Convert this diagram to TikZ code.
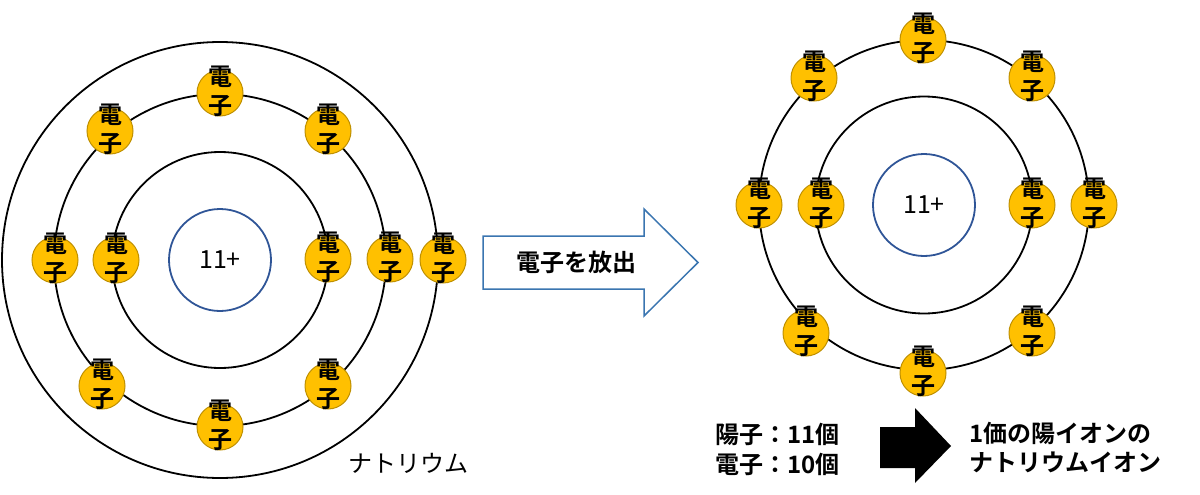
\documentclass[tikz,border=0pt]{standalone}
\usepackage{fontspec}
\setmainfont{Noto Sans CJK JP}[BoldFont={Noto Sans CJK JP Bold}]
\definecolor{egold}{HTML}{FFC000}
\definecolor{eborder}{HTML}{BF9000}
\definecolor{nucblue}{HTML}{2F5597}
\definecolor{arrblue}{HTML}{3A75B0}
\tikzset{
  orbit/.style={draw=black, line width=1.8pt},
  nucleus/.style={circle, draw=nucblue, line width=1.8pt, minimum size=102pt, inner sep=0pt, font=\fontsize{25}{28}\selectfont},
  electron/.style={circle, fill=egold, draw=eborder, line width=1pt, minimum size=46pt, inner sep=0pt},
  etext/.style={align=center, inner sep=0pt, font=\bfseries\fontsize{24}{29}\selectfont, yshift=2pt},
  label24/.style={inner sep=0pt, font=\fontsize{24}{30}\selectfont},
  blabel24/.style={inner sep=0pt, align=left, font=\bfseries\fontsize{24}{30}\selectfont},
}
\begin{document}
\begin{tikzpicture}[x=1pt,y=-1pt]
\useasboundingbox (0,0) rectangle (1200,495);
% ---------- left atom ----------
\coordinate (LC) at (220,260);
\draw[orbit] (LC) circle (108);
\draw[orbit] (LC) circle (166);
\draw[orbit] (LC) circle (218);
\node[nucleus] (LN) at (LC) {11+};
\foreach \n/\x/\y in {l1/220/93, l2/110/131, l3/328/131, l4/55/260, l5/116/260,
                      l6/328/259, l7/390/259, l8/443/260, l9/102/386, l10/328/386, l11/220/427}{
  \node[electron] (\n) at (\x,\y) {};
  \node[etext] (\n t) at (\n) {電\\子};
}
\node[label24, anchor=west] (Lname) at (348,463) {ナトリウム};
% ---------- outline arrow ----------
\draw[arrblue, line width=1.5pt, fill=white]
  (483,236) -- (644,236) -- (644,209) -- (698,262.5) -- (644,316) -- (644,289) -- (483,289) -- cycle;
\node[label24, font=\bfseries\fontsize{24}{28}\selectfont] (emit) at (576,262) {電子を放出};
% ---------- right atom ----------
\coordinate (RC) at (924,205);
\draw[orbit] (RC) circle (108.5);
\draw[orbit] (RC) circle (165);
\node[nucleus] (RN) at (RC) {11+};
\foreach \n/\x/\y in {r1/923/40, r2/814/78, r3/1032/78, r4/759/205, r5/821/205,
                      r6/1032/205, r7/1094/205, r8/806/333, r9/1032/333, r10/923/373}{
  \node[electron] (\n) at (\x,\y) {};
  \node[etext] (\n t) at (\n) {電\\子};
}
% ---------- bottom texts ----------
\node[blabel24, anchor=west] (count1) at (715,434) {陽子：11個};
\node[blabel24, anchor=west] (count2) at (715,464) {電子：10個};
\fill[black] (880,427) -- (915,427) -- (915,408) -- (951,446) -- (915,483) -- (915,468) -- (880,468) -- cycle;
\node[blabel24, anchor=west] (ion1) at (969,433) {1価の陽イオンの};
\node[blabel24, anchor=west] (ion2) at (969,462) {ナトリウムイオン};
\end{tikzpicture}
\end{document}
